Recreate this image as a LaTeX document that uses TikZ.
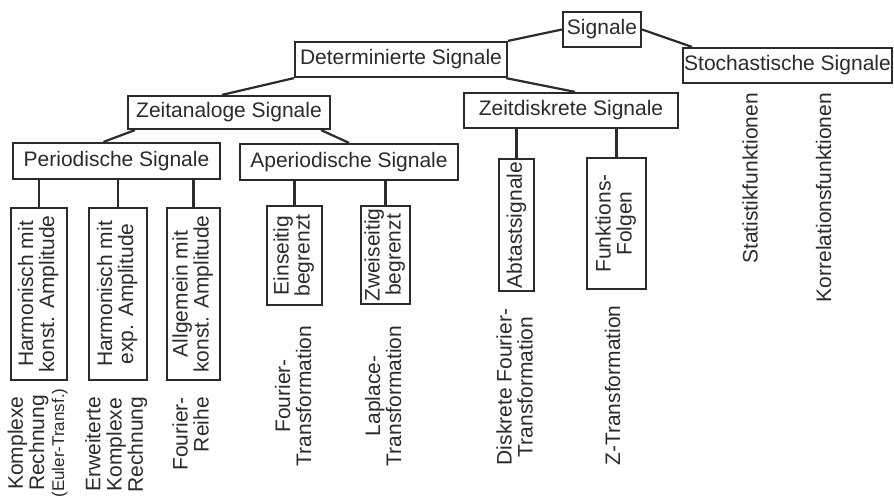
\documentclass[tikz,border=0pt]{standalone}
\usepackage{fontspec}
\setmainfont{Liberation Sans}
\usetikzlibrary{calc}
\definecolor{ink}{rgb}{0.17,0.17,0.17}
\newcommand{\vtc}[1]{\rotatebox{90}{\begin{tabular}{@{}c@{}}#1\end{tabular}}}
\newcommand{\vtr}[1]{\rotatebox{90}{\begin{tabular}{@{}r@{}}#1\end{tabular}}}
\begin{document}
\begin{tikzpicture}[x=1pt,y=-1pt,
 box/.style={draw=ink, line width=2.2pt, inner sep=0pt, text=ink, font=\fontsize{21}{20}\selectfont},
 lbl/.style={inner sep=0pt, text=ink, font=\fontsize{21}{20}\selectfont},
 con/.style={draw=ink, line width=2.2pt}]
\useasboundingbox[fill=white] (0,0) rectangle (894,498);

% top levels
\node[box, minimum width=78pt, minimum height=35pt] (sig) at (602,29.5) {Signale};
\node[box, minimum width=212pt, minimum height=35pt] (det) at (401,59.5) {Determinierte Signale};
\node[box, minimum width=209pt, minimum height=35pt] (sto) at (787.5,65.5) {Stochastische Signale};
\node[box, minimum width=202pt, minimum height=33pt] (zan) at (229,112.5) {Zeitanaloge Signale};
\node[box, minimum width=214pt, minimum height=35pt] (zdi) at (571,110.5) {Zeitdiskrete Signale};
\node[box, minimum width=207pt, minimum height=36pt] (per) at (116.5,161) {Periodische Signale};
\node[box, minimum width=218pt, minimum height=36pt] (ape) at (349,162) {Aperiodische Signale};

% vertical boxes
\node[box, minimum width=56pt, minimum height=172pt] (h1) at (39,294) {\vtc{Harmonisch mit\\konst. Amplitude}};
\node[box, minimum width=58pt, minimum height=172pt] (h2) at (118,294) {\vtc{Harmonisch mit\\exp. Amplitude}};
\node[box, minimum width=53pt, minimum height=172pt] (h3) at (193.5,294) {\vtc{Allgemein mit\\konst. Amplitude}};
\node[box, minimum width=55pt, minimum height=99pt] (ein) at (294.5,255.5) {\vtc{Einseitig\\begrenzt}};
\node[box, minimum width=49pt, minimum height=98pt] (zwe) at (385.5,255) {\vtc{Zweiseitig\\begrenzt}};
\node[box, minimum width=35pt, minimum height=132pt] (abt) at (516.5,225) {\rotatebox{90}{Abtastsignale}};
\node[box, minimum width=59pt, minimum height=131pt] (fun) at (616.5,223.5) {\vtc{Funktions-\\Folgen}};

% labels
\node[lbl] (l1) at (39,443) {\vtc{Komplexe\\Rechnung\\{\fontsize{17}{17}\selectfont(Euler-Transf.)}}};
\node[lbl] (l2) at (117,444.5) {\vtc{Erweiterte\\Komplexe\\Rechnung}};
\node[lbl, anchor=north] (l3) at (193.5,397) {\vtr{Fourier-\\Reihe}};
\node[lbl] (l4) at (296,396) {\vtc{Fourier-\\Transformation}};
\node[lbl] (l5) at (386,396) {\vtc{Laplace-\\Transformation}};
\node[lbl] (l6) at (517.5,387) {\vtc{Diskrete Fourier-\\Transformation}};
\node[lbl] (l7) at (612.5,385.5) {\rotatebox{90}{Z-Transformation}};
\node[lbl, anchor=north] (l8) at (750,93) {\rotatebox{90}{Statistikfunktionen}};
\node[lbl, anchor=north] (l9) at (823.5,93) {\rotatebox{90}{Korrelationsfunktionen}};

% connectors
\draw[con] (sig.west) -- (det.north east);
\draw[con] (sig.east) -- ($(sto.north west)+(10,0)$);
\draw[con] (det.south west) -- ($(zan.north)+(-7,0)$);
\draw[con] ($(det.south east)+(-2,0)$) -- ($(zdi.north)+(4,0)$);
\draw[con] ($(zan.south west)+(8,0)$) -- ($(per.north)+(-13,0)$);
\draw[con] ($(zan.south east)+(-10,0)$) -- (ape.north);
\draw[con] (h1.north |- per.south) -- (h1.north);
\draw[con] (h2.north |- per.south) -- (h2.north);
\draw[con] (h3.north |- per.south) -- (h3.north);
\draw[con] (ein.north |- ape.south) -- (ein.north);
\draw[con] (zwe.north |- ape.south) -- (zwe.north);
\draw[con] (abt.north |- zdi.south) -- (abt.north);
\draw[con] (fun.north |- zdi.south) -- (fun.north);
\end{tikzpicture}
\end{document}
